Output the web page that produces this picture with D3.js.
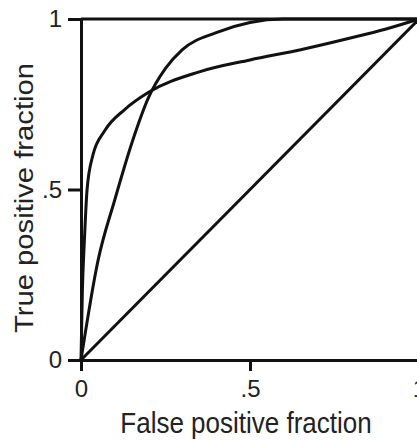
<!DOCTYPE html>
<html>
<head>
<meta charset="utf-8">
<script src="https://cdn.jsdelivr.net/npm/d3@7"></script>
<style>
  body { margin: 0; background: #fff; }
  text { font-family: "Liberation Sans", Arial, sans-serif; fill: #222; }
</style>
</head>
<body>
<div id="chart"></div>
<script>
// ROC curves, values (false positive fraction, true positive fraction)
const curveA = [
  [0, 0], [0.004, 0.2], [0.01, 0.35], [0.018, 0.5], [0.035, 0.6], [0.07, 0.672],
  [0.13, 0.735], [0.2, 0.785], [0.35, 0.845], [0.5, 0.88], [0.65, 0.91],
  [0.8, 0.945], [0.9, 0.97], [1, 1]
];
const curveB = [
  [0, 0], [0.05, 0.29], [0.1, 0.47], [0.15, 0.635], [0.2, 0.77], [0.25, 0.855],
  [0.3, 0.91], [0.4, 0.96], [0.5, 0.99], [0.6, 1], [1, 1]
];
const chance = [[0, 0], [1, 1]];

const xTicks = [0, 0.5, 1];
const yTicks = [0, 0.5, 1];
const tickLabels = ["0", ".5", "1"];

const width = 417, height = 440;
const margin = { top: 19, right: -2, bottom: 80, left: 81 };
const innerWidth = width - margin.left - margin.right;
const innerHeight = height - margin.top - margin.bottom;

const svg = d3.select("#chart")
  .append("svg")
  .attr("width", width)
  .attr("height", height);

const g = svg.append("g")
  .attr("transform", `translate(${margin.left},${margin.top})`);

const x = d3.scaleLinear().domain([0, 1]).range([0, innerWidth]);
const y = d3.scaleLinear().domain([0, 1]).range([innerHeight, 0]);

const fmt = (d) => tickLabels[xTicks.indexOf(d)];

// x axis
const xAxis = g.append("g")
  .attr("transform", `translate(0,${innerHeight})`)
  .call(d3.axisBottom(x).tickValues(xTicks).tickFormat(fmt)
    .tickSize(11).tickSizeOuter(0).tickPadding(9));

// y axis
const yAxis = g.append("g")
  .call(d3.axisLeft(y).tickValues(yTicks).tickFormat(fmt)
    .tickSize(13).tickSizeOuter(0).tickPadding(6));

[xAxis, yAxis].forEach((ax) => {
  ax.selectAll("path, line").attr("stroke", "#111").attr("stroke-width", 3);
  ax.selectAll("text").style("font-size", "24px").attr("fill", "#222");
});

// horizontal line at tpf = 1
g.append("line")
  .attr("x1", x(0)).attr("x2", x(1))
  .attr("y1", y(1)).attr("y2", y(1))
  .attr("stroke", "#111").attr("stroke-width", 3);

const line = d3.line()
  .x((d) => x(d[0]))
  .y((d) => y(d[1]))
  .curve(d3.curveMonotoneX);

[chance, curveA, curveB].forEach((c) => {
  g.append("path")
    .datum(c)
    .attr("d", line)
    .attr("fill", "none")
    .attr("stroke", "#111")
    .attr("stroke-width", 3);
});

// axis titles (the original is a little stretched vertically)
svg.append("text")
  .attr("transform", "translate(246,433) scale(1,1.1)")
  .attr("text-anchor", "middle")
  .style("font-size", "26px")
  .text("False positive fraction");

svg.append("text")
  .attr("transform", "translate(33,198) scale(1,1.17) rotate(-90)")
  .attr("text-anchor", "middle")
  .style("font-size", "25px")
  .text("True positive fraction");
</script>
</body>
</html>
